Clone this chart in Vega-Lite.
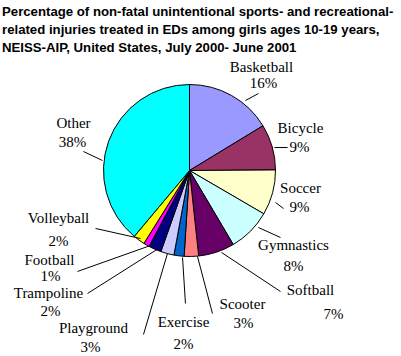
{
  "$schema": "https://vega.github.io/schema/vega-lite/v6.json",
  "width": 379,
  "height": 221,
  "autosize": {"type": "none"},
  "padding": {"left": 0, "top": 60, "right": 22, "bottom": 75},
  "background": "white",
  "config": {"view": {"stroke": null}},
  "title": {
    "text": ["Percentage of non-fatal unintentional sports- and recreational-", "related injuries treated in EDs among girls ages 10-19 years,", "NEISS-AIP, United States, July 2000- June 2001"],
    "anchor": "start",
    "frame": "group",
    "font": "Liberation Sans",
    "fontSize": 13.2,
    "fontWeight": "bold",
    "color": "black",
    "lineHeight": 18.3,
    "offset": 4,
    "dx": 2
  },
  "data": {
    "values": [
      {"idx": 1, "sport": "Basketball", "pct": 16.3, "label": "16%", "nx": 0.837, "ny": 1.209, "px": 0.860, "py": 1.012, "ex": 0.651, "ey": 0.814, "tx": 0.802, "ty": 0.895},
      {"idx": 2, "sport": "Bicycle", "pct": 8.6, "label": "9%", "nx": 1.291, "ny": 0.500, "px": 1.279, "py": 0.279, "ex": 0.988, "ey": 0.267, "tx": 1.140, "ty": 0.267},
      {"idx": 3, "sport": "Soccer", "pct": 8.5, "label": "9%", "nx": 1.291, "ny": -0.209, "px": 1.279, "py": -0.430, "ex": 1.0, "ey": -0.372, "tx": 1.093, "ty": -0.442},
      {"idx": 4, "sport": "Gymnastics", "pct": 8.1, "label": "8%", "nx": 1.209, "ny": -0.872, "px": 1.209, "py": -1.105, "ex": 0.802, "ey": -0.663, "tx": 1.058, "ty": -0.779},
      {"idx": 5, "sport": "Softball", "pct": 6.8, "label": "7%", "nx": 1.407, "ny": -1.395, "px": 1.674, "py": -1.674, "ex": 0.372, "ey": -0.953, "tx": 1.058, "ty": -1.407},
      {"idx": 6, "sport": "Scooter", "pct": 2.7, "label": "3%", "nx": 0.616, "ny": -1.547, "px": 0.628, "py": -1.779, "ex": 0.093, "ey": -1.0, "tx": 0.267, "ty": -1.663},
      {"idx": 7, "sport": "Exercise", "pct": 1.9, "label": "2%", "nx": -0.070, "ny": -1.767, "px": -0.070, "py": -2.012, "ex": -0.081, "ey": -1.012, "tx": -0.047, "ty": -1.547},
      {"idx": 8, "sport": "Playground", "pct": 2.5, "label": "3%", "nx": -1.116, "ny": -1.837, "px": -1.151, "py": -2.058, "ex": -0.256, "ey": -0.965, "tx": -0.535, "ty": -1.907},
      {"idx": 9, "sport": "Trampoline", "pct": 2.4, "label": "2%", "nx": -1.640, "ny": -1.430, "px": -1.616, "py": -1.628, "ex": -0.360, "ey": -0.907, "tx": -1.186, "ty": -1.430},
      {"idx": 10, "sport": "Football", "pct": 1.1, "label": "1%", "nx": -1.628, "ny": -1.035, "px": -1.616, "py": -1.221, "ex": -0.453, "ey": -0.872, "tx": -1.302, "ty": -1.174},
      {"idx": 11, "sport": "Volleyball", "pct": 2.2, "label": "2%", "nx": -1.523, "ny": -0.558, "px": -1.523, "py": -0.814, "ex": -0.570, "ey": -0.791, "tx": -1.093, "ty": -0.674},
      {"idx": 12, "sport": "Other", "pct": 38.9, "label": "38%", "nx": -1.349, "ny": 0.558, "px": -1.360, "py": 0.326, "ex": -1.012, "ey": 0.116, "tx": -1.233, "ty": 0.221}
    ]
  },
  "layer": [
    {
      "mark": {"type": "arc", "outerRadius": 86, "stroke": "black", "strokeWidth": 1},
      "encoding": {
        "theta": {"field": "pct", "type": "quantitative", "stack": true},
        "order": {"field": "idx", "type": "quantitative"},
        "color": {
          "field": "sport",
          "type": "nominal",
          "legend": null,
          "scale": {
            "domain": ["Basketball", "Bicycle", "Soccer", "Gymnastics", "Softball", "Scooter", "Exercise", "Playground", "Trampoline", "Football", "Volleyball", "Other"],
            "range": ["#9999FF", "#993366", "#FFFFCC", "#CCFFFF", "#660066", "#FF8080", "#0066CC", "#CCCCFF", "#000080", "#FF00FF", "#FFFF00", "#00FFFF"]
          }
        }
      }
    },
    {
      "mark": {"type": "rule", "color": "black", "strokeWidth": 1},
      "encoding": {
        "x": {"field": "ex", "type": "quantitative", "axis": null, "scale": {"domain": [-2.2035, 2.2035], "nice": false, "zero": false}},
        "y": {"field": "ey", "type": "quantitative", "axis": null, "scale": {"domain": [-1.2849, 1.2849], "nice": false, "zero": false}},
        "x2": {"field": "tx"},
        "y2": {"field": "ty"}
      }
    },
    {
      "mark": {"type": "text", "font": "Liberation Serif", "fontSize": 15, "align": "center", "baseline": "middle", "color": "black"},
      "encoding": {
        "x": {"field": "nx", "type": "quantitative", "axis": null, "scale": {"domain": [-2.2035, 2.2035], "nice": false, "zero": false}},
        "y": {"field": "ny", "type": "quantitative", "axis": null, "scale": {"domain": [-1.2849, 1.2849], "nice": false, "zero": false}},
        "text": {"field": "sport"}
      }
    },
    {
      "mark": {"type": "text", "font": "Liberation Serif", "fontSize": 15, "align": "center", "baseline": "middle", "color": "black"},
      "encoding": {
        "x": {"field": "px", "type": "quantitative", "axis": null, "scale": {"domain": [-2.2035, 2.2035], "nice": false, "zero": false}},
        "y": {"field": "py", "type": "quantitative", "axis": null, "scale": {"domain": [-1.2849, 1.2849], "nice": false, "zero": false}},
        "text": {"field": "label"}
      }
    }
  ]
}
